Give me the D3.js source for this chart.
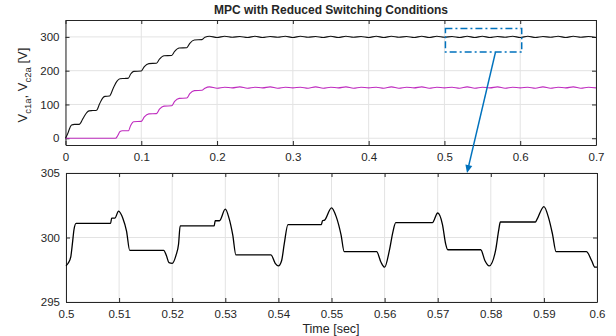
<!DOCTYPE html>
<html>
<head>
<meta charset="utf-8">
<script src="https://cdn.jsdelivr.net/npm/d3@7"></script>
<style>
  body { margin: 0; background: #fff; }
  text { font-family: "Liberation Sans", Arial, sans-serif; fill: #262626; }
  .axis path, .axis line { stroke: #262626; }
</style>
</head>
<body>
<svg id="chart" width="616" height="336"></svg>
<script>
// ---- data ----
// top plot: rising part, [time s, voltage V]
let vc1Rise = [[0,0],[0.003,14],[0.006,32],[0.008,39],[0.012,41],[0.018,41],[0.023,58],[0.028,76],[0.031,81],[0.036,82],[0.041,83],
  [0.045,102],[0.049,119],[0.052,124],[0.058,125],[0.063,148],[0.068,169],[0.072,176],[0.078,177],[0.083,178],[0.086,190],
  [0.09,198],[0.1,199],[0.104,212],[0.11,221],[0.12,222],[0.124,234],[0.13,244],[0.14,245],[0.144,257],[0.15,267],
  [0.16,268],[0.164,281],[0.17,291],[0.18,292],[0.184,299],[0.19,302]]
let vc2Rise = [[0,0],[0.066,0],[0.069,8],[0.072,20],[0.075,22],[0.083,22],[0.086,38],[0.09,49],[0.1,50],[0.104,63],[0.11,72],
  [0.12,73],[0.124,86],[0.13,95],[0.14,96],[0.144,109],[0.15,118],[0.16,119],[0.164,132],[0.17,141],[0.18,142],[0.184,148],[0.19,152]]
// top plot: steady ripple, one value every 0.01 s from 0.20 s to 0.70 s
let steadyT0 = 0.20, steadyDt = 0.01
let vc1Steady = [298,302,299,301,298,302,298,301,299,302,298,302,299,301,298,302,298,302,299,301,298,302,298,302,299,301,
  298,302,298,302,299,301,298,302,298,302,298,301,299,302,298,302,298,301,299,302,298,302,299,301,298]
let vc2Steady = [148,151,149,152,148,151,149,152,148,151,149,151,148,152,148,151,149,152,148,151,149,151,148,152,148,151,
  149,152,148,151,149,151,148,152,148,151,149,152,148,151,149,151,148,152,148,151,149,152,148,151,149]

// bottom plot: zoom on V_c1a between 0.5 and 0.6 s
let zoomData = [[0.5,297.8],[0.5004,298],[0.5009,298.5],[0.5012,299.5],[0.5015,300.6],[0.5019,301.1],[0.5084,301.1],[0.5086,301.5],
  [0.5092,301.5],[0.5099,302.05],[0.5107,301.5],[0.5114,300.5],[0.512,299.0],[0.5184,299.0],[0.5189,298.6],[0.5194,298.05],
  [0.52,298.0],[0.5207,298.6],[0.5212,299.5],[0.5215,300.9],[0.5279,300.9],[0.5281,301.3],[0.5289,301.3],[0.53,302.2],
  [0.5307,301.5],[0.5314,300.2],[0.532,298.65],[0.5386,298.65],[0.5394,298.0],[0.54,297.8],[0.5406,298.2],[0.5411,299.5],
  [0.5418,301.0],[0.5481,301.0],[0.5483,301.3],[0.5487,301.35],[0.55,302.3],[0.5509,301.6],[0.5518,300.2],[0.5524,298.9],
  [0.5585,298.9],[0.5593,298.1],[0.56,297.7],[0.5609,299],[0.5616,300.5],[0.5621,301.15],[0.569,301.15],[0.57,301.9],
  [0.5709,301],[0.5715,299.5],[0.5719,299.05],[0.5781,299.05],[0.5789,298.2],[0.5797,297.8],[0.5809,299],[0.5815,300.6],
  [0.5818,301.2],[0.5884,301.2],[0.5887,301.4],[0.59,302.4],[0.5909,301.5],[0.5916,300.3],[0.5923,298.9],[0.598,298.9],
  [0.599,298.2],[0.5996,297.7],[0.6,297.7]]

let topXTicks = [0,0.1,0.2,0.3,0.4,0.5,0.6,0.7]
let topYTicks = [0,100,200,300]
let botXTicks = [0.5,0.51,0.52,0.53,0.54,0.55,0.56,0.57,0.58,0.59,0.6]
let botYTicks = [295,300,305]
let zoomBox = { t0: 0.5, t1: 0.6, v0: 255, v1: 325 }

let svg = d3.select('#chart')

function drawPanel(box, xDomain, yDomain, xTicks, yTicks, xFmt) {
  let x = d3.scaleLinear().domain(xDomain).range([box.left, box.right])
  let y = d3.scaleLinear().domain(yDomain).range([box.bottom, box.top])
  let g = svg.append('g')

  // grid
  g.selectAll('.gx').data(xTicks).enter().append('line')
    .attr('x1', d => x(d)).attr('x2', d => x(d))
    .attr('y1', box.top).attr('y2', box.bottom)
    .attr('stroke', '#e3e3e3')
  g.selectAll('.gy').data(yTicks).enter().append('line')
    .attr('y1', d => y(d)).attr('y2', d => y(d))
    .attr('x1', box.left).attr('x2', box.right)
    .attr('stroke', '#e3e3e3')

  // axes, ticks pointing inward like matlab
  g.append('g').attr('class', 'axis')
    .attr('transform', 'translate(0,' + box.bottom + ')')
    .call(d3.axisBottom(x).tickValues(xTicks).tickFormat(xFmt).tickSizeInner(-4).tickSizeOuter(0).tickPadding(8))
  g.append('g').attr('class', 'axis')
    .attr('transform', 'translate(0,' + box.top + ')')
    .call(d3.axisTop(x).tickValues(xTicks).tickFormat('').tickSizeInner(-4).tickSizeOuter(0))
  g.append('g').attr('class', 'axis')
    .attr('transform', 'translate(' + box.left + ',0)')
    .call(d3.axisLeft(y).tickValues(yTicks).tickSizeInner(-4).tickSizeOuter(0).tickPadding(6))
  g.append('g').attr('class', 'axis')
    .attr('transform', 'translate(' + box.right + ',0)')
    .call(d3.axisRight(y).tickValues(yTicks).tickFormat('').tickSizeInner(-4).tickSizeOuter(0))
  g.selectAll('.axis text').attr('font-size', 11.5).attr('fill', '#262626')
  g.selectAll('.axis .domain').attr('stroke', '#262626')

  return { x: x, y: y, g: g }
}

// ---- top panel ----
let topP = drawPanel({ left: 65.5, right: 596, top: 20, bottom: 145 }, [0, 0.7], [-20, 350],
  topXTicks, topYTicks, d => d3.format('')(d))

let steady1 = vc1Steady.map((v, i) => [steadyT0 + i * steadyDt, v])
let steady2 = vc2Steady.map((v, i) => [steadyT0 + i * steadyDt, v])
let lineTop = d3.line().x(d => topP.x(d[0])).y(d => topP.y(d[1])).curve(d3.curveMonotoneX)

topP.g.append('path').datum(vc2Rise.concat(steady2))
  .attr('d', lineTop).attr('fill', 'none').attr('stroke', '#bf2cbf').attr('stroke-width', 1.1)
topP.g.append('path').datum(vc1Rise.concat(steady1))
  .attr('d', lineTop).attr('fill', 'none').attr('stroke', '#111').attr('stroke-width', 1.1)

// zoom box
topP.g.append('rect')
  .attr('x', topP.x(zoomBox.t0) + 1).attr('y', topP.y(zoomBox.v1))
  .attr('width', topP.x(zoomBox.t1) - topP.x(zoomBox.t0) + 0.5)
  .attr('height', topP.y(zoomBox.v0) - topP.y(zoomBox.v1))
  .attr('fill', 'none').attr('stroke', '#0072BD').attr('stroke-width', 1.5)
  .attr('stroke-dasharray', '7,3,2,3')

// title
svg.append('text').attr('x', 331).attr('y', 14).attr('text-anchor', 'middle')
  .attr('font-size', 12).attr('font-weight', 'bold').attr('fill', '#000')
  .text('MPC with Reduced Switching Conditions')

// y label with subscripts
let yl = svg.append('text').attr('transform', 'translate(27,85) rotate(-90)')
  .attr('text-anchor', 'middle').attr('font-size', 13)
yl.append('tspan').text('V')
yl.append('tspan').attr('font-size', 9.5).attr('dy', 4).text('c1a')
yl.append('tspan').attr('dy', -4).text(', V')
yl.append('tspan').attr('font-size', 9.5).attr('dy', 4).text('c2a')
yl.append('tspan').attr('dy', -4).text(' [V]')

// ---- bottom panel ----
let botP = drawPanel({ left: 66, right: 597, top: 173, bottom: 302 }, [0.5, 0.6], [295, 305],
  botXTicks, botYTicks, d => d3.format('')(+d.toFixed(2)))

let lineBot = d3.line().x(d => botP.x(d[0])).y(d => botP.y(d[1])).curve(d3.curveMonotoneX)
botP.g.append('path').datum(zoomData)
  .attr('d', lineBot).attr('fill', 'none').attr('stroke', '#000').attr('stroke-width', 1.3)

svg.append('text').attr('x', 331).attr('y', 333).attr('text-anchor', 'middle')
  .attr('font-size', 12.5).text('Time [sec]')

// arrow from the box down to the zoomed panel
let ax0 = 495.5, ay0 = topP.y(zoomBox.v0), ax1 = 467, ay1 = 173
let ang = Math.atan2(ay1 - ay0, ax1 - ax0)
svg.append('line').attr('x1', ax0).attr('y1', ay0).attr('x2', ax1 - 6 * Math.cos(ang)).attr('y2', ay1 - 6 * Math.sin(ang))
  .attr('stroke', '#0072BD').attr('stroke-width', 1.5)
let hw = 3.5, hl = 8
svg.append('path')
  .attr('d', 'M' + ax1 + ',' + ay1 +
    'L' + (ax1 - hl * Math.cos(ang) + hw * Math.sin(ang)) + ',' + (ay1 - hl * Math.sin(ang) - hw * Math.cos(ang)) +
    'L' + (ax1 - hl * Math.cos(ang) - hw * Math.sin(ang)) + ',' + (ay1 - hl * Math.sin(ang) + hw * Math.cos(ang)) + 'Z')
  .attr('fill', '#0072BD')
</script>
</body>
</html>
